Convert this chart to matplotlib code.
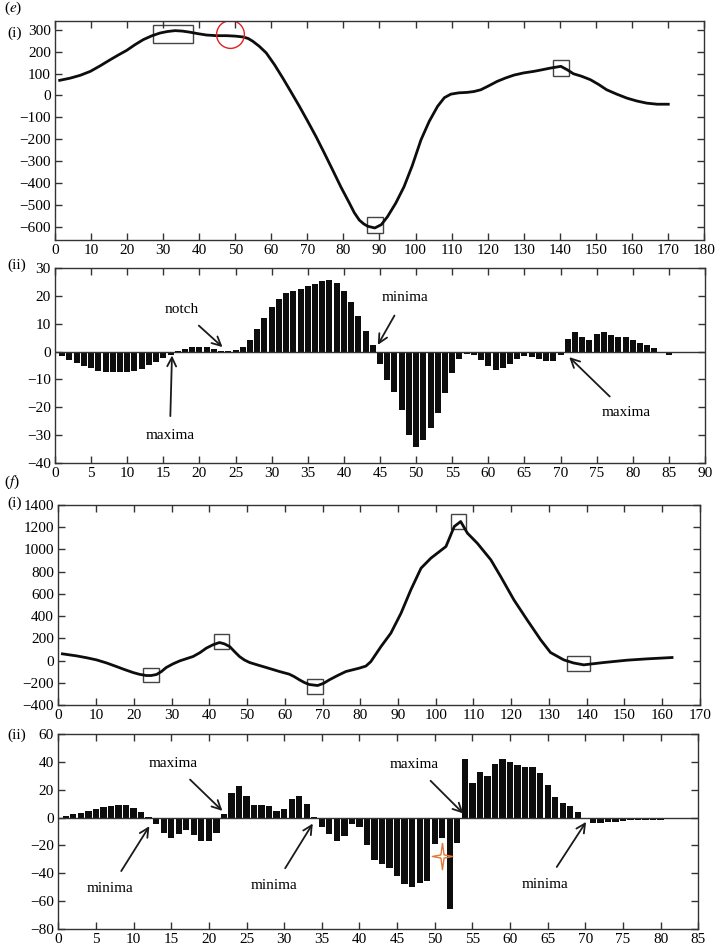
import numpy as np
import matplotlib.pyplot as plt
from matplotlib.patches import Rectangle
from matplotlib.path import Path

plt.rcParams['font.family'] = ['Liberation Serif', 'DejaVu Serif']
plt.rcParams['mathtext.fontset'] = 'stix'

# --- panel (e)(i): curve ---
e_curve_x = [1.3, 4.2, 7, 9.8, 12.5, 15.3, 17.6, 19.9, 22.2, 24.5, 26.8, 29.1, 31.2, 33.3,
             35.3, 37.4, 39.7, 42, 44.8, 47.6, 50, 52.2, 53.6, 54.9, 56.7, 58.6, 60.9, 63.2,
             65.5, 67.8, 70.1, 72.4, 74.7, 77, 79.3, 81.7, 83, 84.4, 85.6, 86.7, 88.7, 90.5,
             92.2, 94.5, 96.8, 99.1, 101.5, 103.8, 106.1, 108, 109.8, 112, 114.3, 116.2,
             118.1, 120.3, 122.6, 125, 127.3, 130, 132.8, 135, 137.4, 140.3, 142, 143.8,
             146, 148.5, 150.8, 153, 155.8, 158.6, 161.3, 164.1, 167, 170.1]
e_curve_y = [69, 79, 92, 110, 135, 163, 185, 206, 232, 255, 272, 285, 292, 296,
             294, 289, 282, 276, 273, 273, 271, 267, 260, 247, 224, 194, 140, 79,
             15, -50, -118, -188, -263, -340, -418, -493, -535, -569, -586, -597, -605, -590,
             -554, -492, -417, -320, -203, -118, -50, -10, 6, 12, 14, 18,
             26, 44, 64, 80, 93, 103, 110, 117, 125, 133, 118, 99,
             88, 72, 50, 26, 6, -12, -25, -35, -40, -40]
# highlighted regions (centre x, centre y, width, height) in data units
e_boxes = [(32.8, 282, 11, 84), (88.75, -593, 4.5, 73), (140.3, 125, 4.5, 70)]
e_circle = (48.5, 281)

# --- panel (e)(ii): bars ---
e_bar_x = list(range(1, 86))
e_bar_y = [-1.7, -2.9, -4.1, -5.2, -6.0, -6.8, -7.3, -7.4, -7.5, -7.2, -6.8, -6.2, -5.0, -3.6,
           -2.4, -1.2, 0.2, 1.0, 1.8, 1.8, 1.5, 0.9, 0.3, 0.2, 0.5, 1.8, 4.3, 8.1, 12.2, 16.0,
           19.0, 21.0, 21.9, 22.4, 23.4, 24.3, 25.4, 25.7, 24.5, 21.7, 17.7, 12.7, 7.5, 2.2,
           -4.5, -10.1, -14.5, -21.0, -30.0, -34.3, -31.9, -27.6, -22.2, -15.0, -7.7, -2.7,
           -0.7, -1.1, -3.0, -5.3, -6.5, -6.0, -4.5, -2.7, -1.7, -2.0, -2.8, -3.4, -3.3, -1.1,
           4.5, 7.1, 5.1, 4.2, 6.3, 7.0, 5.9, 5.2, 5.1, 4.2, 3.1, 2.2, 1.2, 0.0, -1.1]
# (label, text xy, arrow tip xy)
e_notes = [('notch', (17.5, 15), (23.2, 1.6)),
           ('maxima', (15.9, -30), (16.2, -1.4)),
           ('minima', (48.4, 19.3), (44.7, 2.4)),
           ('maxima', (79.1, -21.9), (71.2, -2.0))]

# --- panel (f)(i): curve ---
f_curve_x = [1.1, 4.8, 7.5, 10.1, 12.8, 15.4, 17.6, 19.8, 21.5, 23.3, 24.6, 26, 27.3, 28.6,
             30.4, 32.2, 35.7, 37.5, 39.2, 41, 42.7, 44, 45.4, 46.7, 48, 49.3, 50.7, 53,
             55.1, 58.6, 61.2, 62.5, 63.9, 65.2, 66.5, 68.7, 70.3, 71.8, 74, 76.2, 79.7,
             81.5, 82.8, 85.5, 88.1, 90.8, 93.4, 96.1, 98.7, 102.7, 104.9, 106.6, 108.4,
             111, 114.6, 117.2, 120.7, 124.2, 127.8, 130.4, 133.9, 136.5, 139.2, 144.5,
             150.7, 156, 162.6]
f_curve_y = [60, 42, 25, 6, -22, -54, -82, -108, -124, -135, -135, -126, -100, -63,
             -30, -3, 36, 70, 111, 142, 162, 150, 126, 80, 36, 5, -18, -42,
             -63, -99, -123, -145, -174, -198, -216, -225, -205, -174, -135, -99, -69,
             -50, -10, 126, 246, 426, 636, 831, 921, 1026, 1206, 1251, 1146,
             1056, 906, 756, 546, 366, 186, 72, 6, -22, -39, -18,
             3, 15, 27]
f_boxes = [(24.6, -129, 4.1, 132), (43.2, 172, 4.0, 135), (68.0, -231, 4.0, 132),
           (106.0, 1250, 4.1, 135), (137.9, -24, 6.0, 138)]

# --- panel (f)(ii): bars ---
f_bar_x = list(range(1, 83))
f_bar_y = [1.0, 2.2, 3.3, 5.0, 6.2, 7.4, 8.4, 9.1, 9.1, 7.2, 4.3, 0.5, -4.5, -11, -14.8,
           -11.7, -9.1, -12.4, -16.7, -16.7, -10.8, 2.4, 17.5, 22.5, 15.6, 9.1, 9.1, 8.6,
           4.8, 6.2, 13.2, 15.8, 9.6, 0.3, -6.7, -12, -16.5, -12.9, -4.8, -6.7, -19.9,
           -30.6, -33.5, -36.4, -42.1, -47.8, -49.8, -46.7, -45.9, -18.7, -14.8, -65.3,
           -18.2, 41.9, 25.1, 32.5, 29.9, 38.3, 41.9, 40.2, 37.6, 36.4, 36.1, 32.3, 23.7,
           14.8, 10.5, 8.4, 4.3, -0.5, -3.6, -3.6, -3.3, -2.9, -2.2, -1.7, -1.4, -1.4,
           -1.4, -1.4, -1.0, -0.5]
f_notes = [('maxima', (15.3, 38.8), (21.8, 4.8)),
           ('minima', (6.9, -51), (12.1, -6.2)),
           ('minima', (28.7, -49), (33.8, -4.3)),
           ('maxima', (47.3, 38), (53.8, 2.9)),
           ('minima', (64.7, -48), (70.1, -3.1))]
f_star = (51, -27.8)

fig = plt.figure(figsize=(7.15, 9.46), dpi=100)
ax1 = fig.add_axes([0.0769, 0.7463, 0.9077, 0.2315])
ax2 = fig.add_axes([0.0769, 0.5106, 0.9091, 0.2061])
ax3 = fig.add_axes([0.0815, 0.2548, 0.8975, 0.2114])
ax4 = fig.add_axes([0.0815, 0.0180, 0.8951, 0.2061])


def style(ax):
    for s in ax.spines.values():
        s.set_color('#333333')
        s.set_linewidth(1.0)
    ax.tick_params(direction='in', top=True, right=True, length=5, width=1,
                   color='#333333', labelsize=11, pad=3)


def bars(ax, x, y, notes):
    ax.bar(x, y, width=0.84, color='#0d0d0d', edgecolor='none')
    ax.axhline(0, color='#333333', lw=1.0)
    for label, txt, tip in notes:
        ax.annotate(label, xy=tip, xytext=txt, ha='center', va='center', fontsize=11,
                    arrowprops=dict(arrowstyle='->', lw=1.3, color='#1a1a1a',
                                    mutation_scale=16, shrinkA=7, shrinkB=0))


# (e)(i)
style(ax1)
ax1.plot(e_curve_x, e_curve_y, color='#0d0d0d', lw=2.0)
for cx, cy, w, h in e_boxes:
    ax1.add_patch(Rectangle((cx - w / 2, cy - h / 2), w, h, fill=False,
                            edgecolor='#444444', lw=1.0))
ax1.plot(*e_circle, marker='o', markersize=20, markerfacecolor='none',
         markeredgecolor='#e02020', markeredgewidth=1.0)
ax1.set_xlim(0, 180)
ax1.set_ylim(-660, 340)
ax1.set_xticks(np.arange(0, 181, 10))
ax1.set_yticks(np.arange(-600, 301, 100))

# (e)(ii)
style(ax2)
bars(ax2, e_bar_x, e_bar_y, e_notes)
ax2.set_xlim(0, 90)
ax2.set_ylim(-40, 30)
ax2.set_xticks(np.arange(0, 91, 5))
ax2.set_yticks(np.arange(-40, 31, 10))

# (f)(i)
style(ax3)
ax3.plot(f_curve_x, f_curve_y, color='#0d0d0d', lw=2.0)
for cx, cy, w, h in f_boxes:
    ax3.add_patch(Rectangle((cx - w / 2, cy - h / 2), w, h, fill=False,
                            edgecolor='#444444', lw=1.0))
ax3.set_xlim(0, 170)
ax3.set_ylim(-400, 1400)
ax3.set_xticks(np.arange(0, 171, 10))
ax3.set_yticks(np.arange(-400, 1401, 200))

# (f)(ii)
style(ax4)
bars(ax4, f_bar_x, f_bar_y, f_notes)
star = Path([(0, 1), (0.12, 0.12), (0.77, 0), (0.12, -0.12), (0, -1), (-0.12, -0.12),
             (-0.77, 0), (-0.12, 0.12), (0, 1)])
ax4.plot(*f_star, marker=star, markersize=19, markerfacecolor='none',
         markeredgecolor='#e07a3a', markeredgewidth=1.0)
ax4.set_xlim(0, 85)
ax4.set_ylim(-80, 60)
ax4.set_xticks(np.arange(0, 86, 5))
ax4.set_yticks(np.arange(-80, 61, 20))

# minus signs as in the original
for ax in (ax1, ax2, ax3, ax4):
    ax.set_yticklabels([str(int(t)).replace('-', '\u2212') for t in ax.get_yticks()])

# panel labels
fig.text(0.005, 1 - 8 / 946, r'($\it{e}$)', fontsize=11, va='center')
fig.text(0.01, 1 - 33 / 946, '(i)', fontsize=11, va='center')
fig.text(0.01, 1 - 265 / 946, '(ii)', fontsize=11, va='center')
fig.text(0.005, 1 - 482 / 946, r'($\it{f}$)', fontsize=11, va='center')
fig.text(0.01, 1 - 503 / 946, '(i)', fontsize=11, va='center')
fig.text(0.01, 1 - 735 / 946, '(ii)', fontsize=11, va='center')

plt.savefig('out.png', dpi=100)
